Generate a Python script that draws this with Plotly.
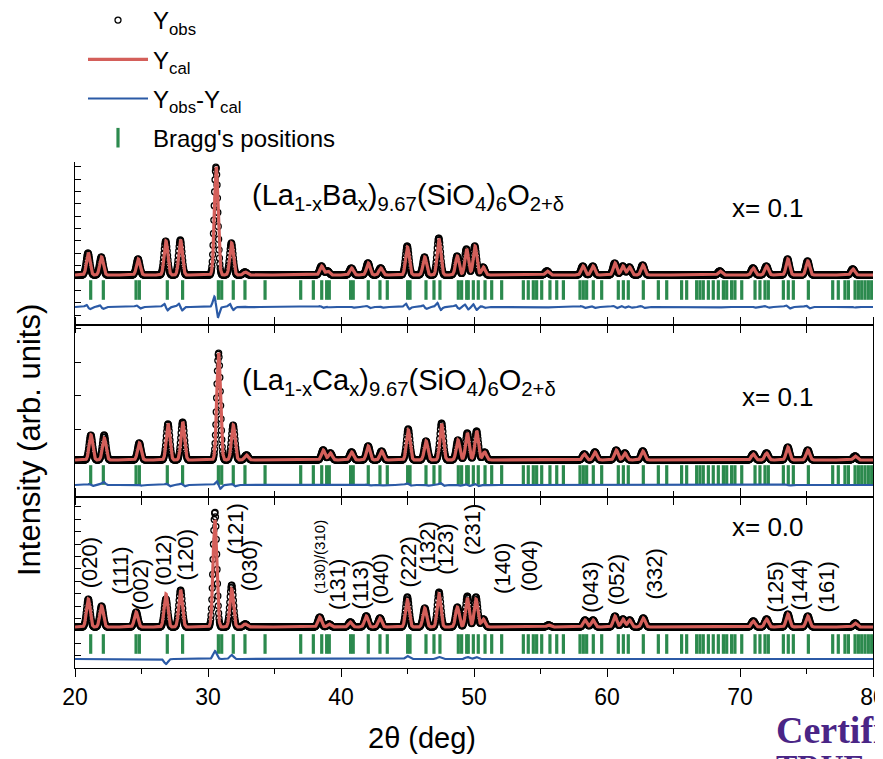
import numpy as np
import plotly.graph_objects as go
from plotly.subplots import make_subplots

# ------------------------------------------------------------------
# Data (2-theta in degrees, intensity in arb. units)
# ------------------------------------------------------------------
x_range = [20, 80]
x_tick_vals = [20, 30, 40, 50, 60, 70, 80]

# Bragg reflection positions (same set shown in every panel)
bragg_pos = [21.18, 22.13, 24.59, 24.84, 26.94, 28.09, 30.78, 31.03, 31.90, 32.78, 34.29,
             36.97, 37.92, 38.55, 38.92, 39.12, 40.72, 40.92, 42.05, 42.93, 43.48, 45.01,
             45.19, 46.39, 46.99, 47.44, 48.82, 49.07, 49.45, 49.57, 49.95, 50.32, 50.83,
             51.33, 52.08, 53.71, 54.08, 54.46, 54.71, 55.09, 55.71, 56.22, 56.72, 57.97,
             58.22, 58.47, 58.97, 59.60, 60.85, 61.23, 61.60, 62.73, 63.86, 64.49, 65.61,
             65.99, 66.74, 66.99, 67.24, 67.62, 67.99, 68.37, 68.75, 69.00, 69.37, 69.62,
             70.13, 71.13, 71.50, 71.88, 72.13, 73.26, 73.63, 74.01, 75.14, 76.97, 77.39,
             77.89, 78.15, 78.65, 78.90, 79.15, 79.40, 79.65, 79.90]

# Panel 1: (La1-xBax)9.67(SiO4)6O2+d, x = 0.1
ba_peak_pos = [21.0, 22.0, 24.76, 26.84, 27.94, 30.62, 31.78, 32.8, 38.55, 39.0, 40.8,
               42.05, 43.0, 45.0, 46.3, 47.37, 48.75, 49.45, 50.08, 50.7, 55.5, 58.2,
               58.95, 60.6, 61.2, 61.7, 62.7, 68.5, 71.0, 72.0, 73.6, 75.1, 78.5]
ba_cal_h = [22, 18, 16, 34, 35, 108, 32, 3, 9, 4, 7, 12, 7, 28, 18, 36, 19, 26, 29, 8,
            4, 9, 9, 12, 9, 8, 10, 4, 7, 9, 16, 14, 6]
ba_obs_h = [22, 18, 16, 34, 35, 108, 32, 3, 9, 4, 7, 12, 7, 29, 18, 37, 19, 26, 29, 8,
            4, 9, 9, 12, 9, 8, 10, 4, 7, 9, 16, 14, 6]
ba_obs_shift = -0.022   # observed peaks sit slightly left of the calculated ones

# Panel 2: (La1-xCax)9.67(SiO4)6O2+d, x = 0.1
ca_peak_pos = [21.2, 22.2, 24.84, 27.0, 28.1, 30.8, 31.9, 32.9, 38.67, 39.2, 40.8,
               42.05, 43.06, 45.06, 46.4, 47.57, 48.8, 49.5, 50.2, 50.8, 58.3, 59.1,
               60.7, 61.35, 62.7, 71.0, 72.0, 73.6, 75.1, 78.65]
ca_cal_h = [25, 22, 17, 36, 38, 107, 35, 5, 10, 7, 8, 14, 9, 30, 19, 36, 20, 27, 29, 8,
            6, 8, 10, 7, 9, 6, 7, 13, 10, 4]
ca_obs_h = [25, 25, 17, 36, 38, 107, 35, 5, 10, 7, 8, 14, 9, 31, 19, 37, 20, 27, 29, 8,
            6, 8, 10, 7, 9, 6, 7, 13, 10, 4]
ca_obs_shift = -0.008

# Panel 3: x = 0.0
la_peak_pos = [21.0, 22.0, 24.6, 26.84, 27.94, 30.52, 31.78, 32.8, 38.4, 39.1, 40.7,
               41.9, 42.93, 44.99, 46.3, 47.37, 48.75, 49.5, 50.15, 50.7, 55.6, 58.35,
               58.95, 60.6, 61.2, 61.7, 62.73, 71.0, 72.0, 73.6, 75.1, 78.65]
la_cal_h = [28, 21, 15, 33, 37, 107, 38, 3, 10, 3, 5, 11, 9, 27, 19, 33, 20, 29, 28, 8,
            2, 7, 7, 11, 8, 7, 9, 6, 8, 13, 11, 4]
la_obs_h = [28, 21, 15, 28, 37, 115, 42, 3, 10, 3, 5, 11, 9, 30, 19, 35, 20, 31, 30, 8,
            2, 7, 7, 11, 8, 7, 9, 6, 8, 13, 11, 4]
la_obs_shift = 0.0

# Miller indices labelled in the bottom panel
hkl_labels = ["(020)", "(111)", "(002)", "(012)", "(120)", "(121)", "(030)", "(130)/(310)",
              "(131)", "(113)", "(040)", "(222)", "(132)", "(123)", "(231)", "(140)",
              "(004)", "(043)", "(052)", "(332)", "(125)", "(144)", "(161)"]
hkl_pos = [21.07, 23.35, 24.9, 26.6, 28.3, 32.0, 33.1, 38.35, 39.7, 41.4, 42.9, 45.0,
           46.5, 47.8, 49.85, 52.1, 54.1, 58.7, 60.7, 63.5, 72.6, 74.4, 76.5]

panel_titles = ["(La<sub>1-x</sub>Ba<sub>x</sub>)<sub>9.67</sub>(SiO<sub>4</sub>)<sub>6</sub>O<sub>2+δ</sub>",
                "(La<sub>1-x</sub>Ca<sub>x</sub>)<sub>9.67</sub>(SiO<sub>4</sub>)<sub>6</sub>O<sub>2+δ</sub>",
                ""]
panel_x_labels = ["x= 0.1", "x= 0.1", "x= 0.0"]

# ------------------------------------------------------------------
# Layout constants (pixels of the 883 x 759 page; the HTML body adds an 8 px margin)
# ------------------------------------------------------------------
PAGE_W, PAGE_H = 883, 759
BODY = 8
W, H = PAGE_W - BODY, PAGE_H - BODY
L_PX, R_PX = 75, 873
TOP_PX, B1_PX, B2_PX, BOT_PX = 162, 325, 497, 668
PH = BOT_PX - TOP_PX

def pxx(px):
    return (px - L_PX) / (R_PX - L_PX)

def pxy(py):
    return (BOT_PX - py) / PH

# per panel: y range, baseline, Bragg-row centre, difference-curve level (arb. units)
panel_range = [[0, B1_PX - TOP_PX], [0, B2_PX - B1_PX], [0, BOT_PX - B2_PX]]
panel_base = [50, 37, 41]
panel_bragg = [35, 22, 24]
panel_diff = [18, 12, 9]

FWHM = 0.32

def profile(x, pos, h, shift=0.0):
    x = np.asarray(x, dtype=float)[:, None]
    p = np.asarray(pos, dtype=float)[None, :] + shift
    a = np.asarray(h, dtype=float)[None, :]
    return (a * np.exp(-4 * np.log(2) * ((x - p) / FWHM) ** 2)).sum(axis=1)

RED = "#d45f5a"
BLUE = "#2b5aa6"
GREEN = "#2c8a4e"
FONT = "Liberation Sans, Arial, Helvetica, sans-serif"

fig = make_subplots(rows=3, cols=1, shared_xaxes=True, vertical_spacing=0)

x_obs = np.arange(x_range[0], x_range[1] + 1e-9, 0.03)
x_cal = np.arange(x_range[0], x_range[1] + 1e-9, 0.01)

panels = [(ba_peak_pos, ba_cal_h, ba_obs_h, ba_obs_shift),
          (ca_peak_pos, ca_cal_h, ca_obs_h, ca_obs_shift),
          (la_peak_pos, la_cal_h, la_obs_h, la_obs_shift)]

for i, (pos, hc, ho, sh) in enumerate(panels):
    row = i + 1
    base = panel_base[i]
    y_obs = base + profile(x_obs, pos, ho, sh)
    y_cal = base + profile(x_cal, pos, hc)
    y_dif = panel_diff[i] + profile(x_cal, pos, ho, sh) - profile(x_cal, pos, hc)
    first = (i == 0)
    fig.add_trace(go.Scatter(x=x_obs, y=y_obs, mode="markers", name="Y<sub>obs</sub>",
                             marker=dict(symbol="circle-open", size=6, color="black",
                                         line=dict(width=1.3, color="black")),
                             showlegend=first, legendrank=1, legendgroup="obs"),
                  row=row, col=1)
    fig.add_trace(go.Scatter(x=x_cal, y=y_cal, mode="lines", name="Y<sub>cal</sub>",
                             line=dict(color=RED, width=3.2),
                             showlegend=first, legendrank=2, legendgroup="cal"),
                  row=row, col=1)
    fig.add_trace(go.Scatter(x=bragg_pos, y=[panel_bragg[i]] * len(bragg_pos), mode="markers",
                             name="Bragg's positions",
                             marker=dict(symbol="line-ns", size=14, color=GREEN,
                                         line=dict(width=3.2, color=GREEN)),
                             showlegend=first, legendrank=4, legendgroup="bragg"),
                  row=row, col=1)
    fig.add_trace(go.Scatter(x=x_cal, y=y_dif, mode="lines",
                             name="Y<sub>obs</sub>-Y<sub>cal</sub>",
                             line=dict(color=BLUE, width=2.2),
                             showlegend=first, legendrank=3, legendgroup="dif"),
                  row=row, col=1)

axis_common = dict(showgrid=False, zeroline=False, showline=True, linecolor="black",
                   linewidth=1.3, tickcolor="black", tickwidth=1.3)

minor_in = dict(dtick=5, tick0=20, ticks="outside", ticklen=7, tickcolor="black", tickwidth=1.3)

fig.update_layout(
    xaxis=dict(range=x_range, tickvals=x_tick_vals, ticks="outside", ticklen=7,
               showticklabels=False, mirror=False, minor=minor_in, **axis_common),
    xaxis2=dict(range=x_range, tickvals=x_tick_vals, ticks="outside", ticklen=7,
                showticklabels=False, mirror="ticks", minor=minor_in, **axis_common),
    xaxis3=dict(range=x_range, tickvals=x_tick_vals, ticks="outside", ticklen=8,
                showticklabels=True, mirror="ticks", ticklabeloverflow="allow",
                tickfont=dict(family=FONT, size=23, color="black"),
                minor=dict(dtick=5, tick0=20, ticks="outside", ticklen=5,
                           tickcolor="black", tickwidth=1.3), **axis_common),
    yaxis=dict(domain=[pxy(B1_PX), 1.0], range=panel_range[0], tick0=10, dtick=12.35,
               ticks="inside", ticklen=6, showticklabels=False, mirror=False, **axis_common),
    yaxis2=dict(domain=[pxy(B2_PX), pxy(B1_PX)], range=panel_range[1], tick0=0, dtick=33.7,
                ticks="inside", ticklen=6, showticklabels=False, mirror=True, **axis_common),
    yaxis3=dict(domain=[0.0, pxy(B2_PX)], range=panel_range[2], tick0=0, dtick=12.4,
                ticks="inside", ticklen=6, showticklabels=False, mirror=True, **axis_common),
)

annotations = []
# panel formulas and compositions
title_pos = [(250, 197), (240, 382), None]
xlab_pos = [(730, 208), (740, 397), (730, 527)]
for i in range(3):
    if panel_titles[i]:
        tx, ty = title_pos[i]
        annotations.append(dict(x=pxx(tx), y=pxy(ty), xref="paper", yref="paper",
                                text=panel_titles[i], showarrow=False, xanchor="left",
                                yanchor="middle", font=dict(family=FONT, size=29, color="black")))
    lx, ly = xlab_pos[i]
    annotations.append(dict(x=pxx(lx), y=pxy(ly), xref="paper", yref="paper",
                            text=panel_x_labels[i], showarrow=False, xanchor="left",
                            yanchor="middle", font=dict(family=FONT, size=26, color="black")))

# hkl labels (vertical text) in the bottom panel
hkl_label_py = [563, 571, 585, 560, 555, 529, 566, 557, 585, 585, 579, 562, 547, 549, 530,
                568, 566, 587, 580, 574, 587, 585, 587]
for lab, xp, py in zip(hkl_labels, hkl_pos, hkl_label_py):
    small = "/" in lab
    annotations.append(dict(x=xp, y=BOT_PX - py, xref="x3", yref="y3", text=lab,
                            showarrow=False, textangle=-90, xanchor="center", yanchor="middle",
                            font=dict(family=FONT, size=15 if small else 22, color="black")))

# axis titles
annotations.append(dict(x=pxx(422), y=pxy(738), xref="paper", yref="paper", text="2θ (deg)",
                        showarrow=False, xanchor="center", yanchor="middle",
                        font=dict(family=FONT, size=29, color="black")))
annotations.append(dict(x=pxx(30), y=pxy(440), xref="paper", yref="paper",
                        text="Intensity (arb. units)", showarrow=False, textangle=-90,
                        xanchor="center", yanchor="middle",
                        font=dict(family=FONT, size=31, color="black")))
# certification stamp (cut off at the page edge, as in the source image)
annotations.append(dict(x=pxx(774), y=pxy(730), xref="paper", yref="paper",
                        text="<b>Certified</b>", showarrow=False, xanchor="left",
                        yanchor="middle",
                        font=dict(family="Liberation Serif, DejaVu Serif, serif", size=38,
                                  color="#4a2586")))
annotations.append(dict(x=pxx(774), y=pxy(766), xref="paper", yref="paper",
                        text="<b>TRUE COPY</b>", showarrow=False, xanchor="left",
                        yanchor="middle",
                        font=dict(family="Liberation Serif, DejaVu Serif, serif", size=32,
                                  color="#4a2586")))

fig.update_layout(
    width=W, height=H,
    margin=dict(l=L_PX - BODY, r=PAGE_W - R_PX, t=TOP_PX - BODY, b=PAGE_H - BOT_PX,
                pad=0, autoexpand=False),
    paper_bgcolor="white", plot_bgcolor="white",
    annotations=annotations,
    showlegend=True,
    legend=dict(x=pxx(83), y=pxy(-2), xanchor="left", yanchor="top", xref="paper", yref="paper",
                bgcolor="rgba(0,0,0,0)", borderwidth=0, itemwidth=60, tracegroupgap=5,
                font=dict(family=FONT, size=24, color="black")),
    font=dict(family=FONT, color="black"),
)

fig.write_html("out.html")
